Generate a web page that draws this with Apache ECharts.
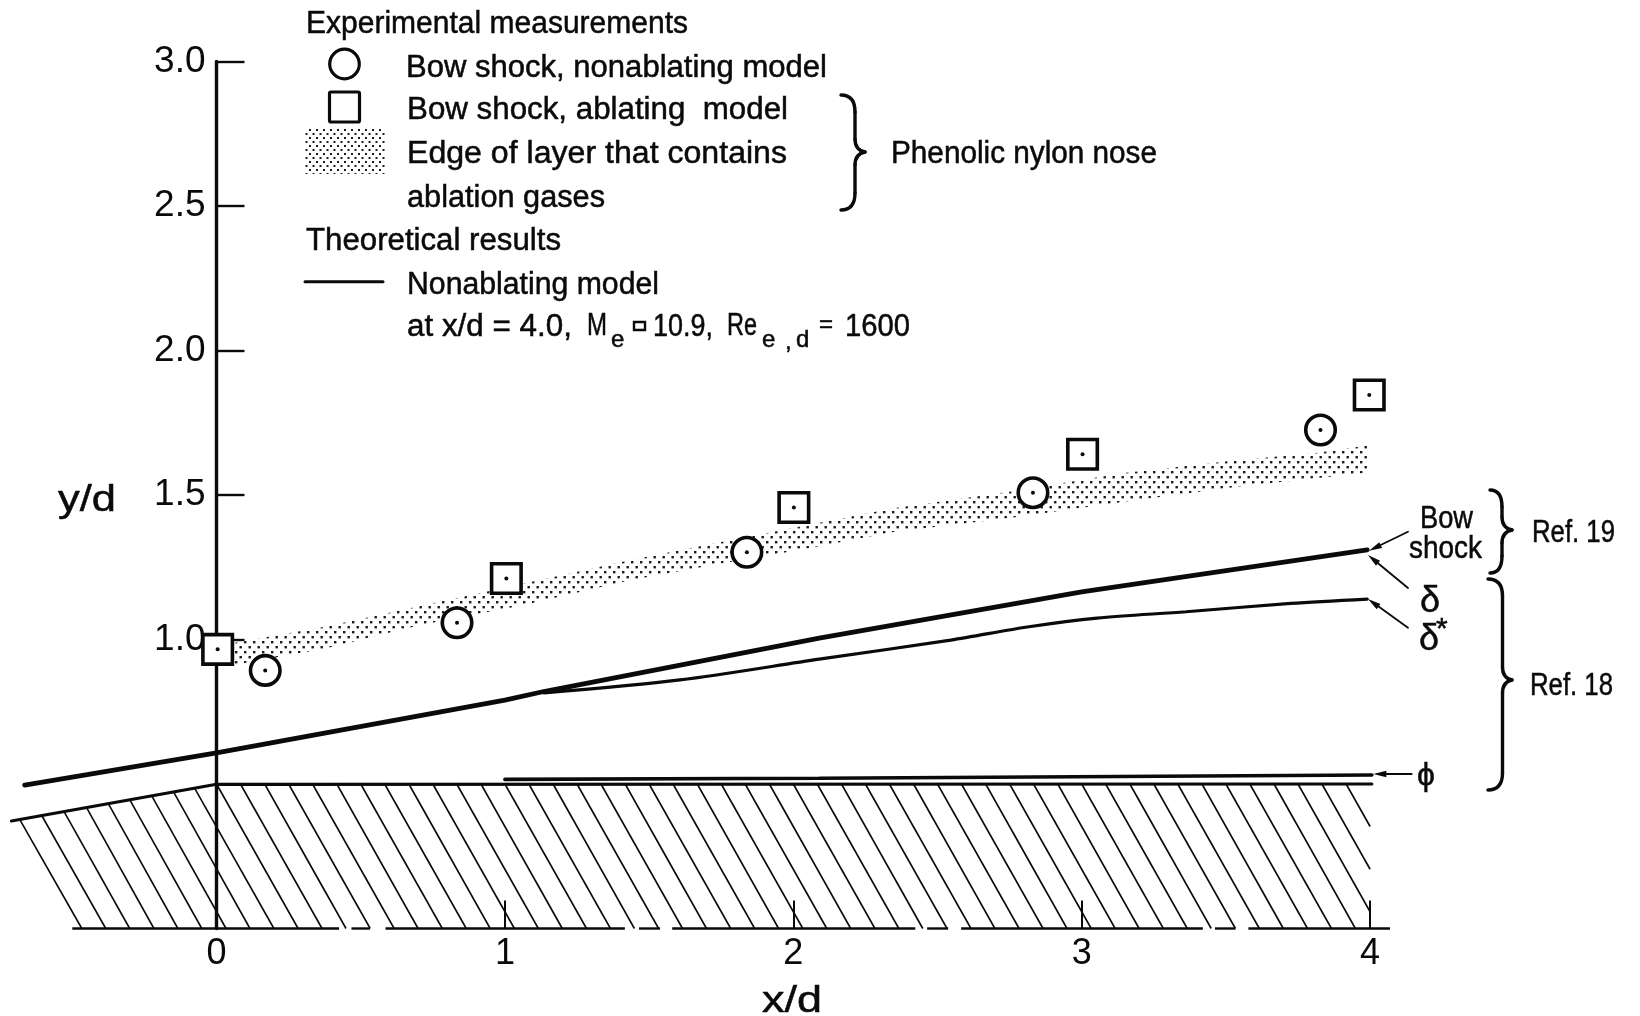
<!DOCTYPE html>
<html>
<head>
<meta charset="utf-8">
<style>html,body{margin:0;padding:0;background:#fff}#c{width:1640px;height:1016px}</style>
<script src="https://cdn.jsdelivr.net/npm/echarts@6/dist/echarts.min.js"></script>
</head>
<body>
<div id="c"></div>
<script>
// ---- data ----
const xTickLabels = [0, 1, 2, 3, 4];
const xTickMarks = [1, 2, 3, 4];
const yTickValues = [1, 1.5, 2, 2.5, 3];

const circleX = [0.169, 0.834, 1.839, 2.831, 3.828];
const circleY = [0.893, 1.058, 1.302, 1.508, 1.725];
const squareX = [0.004, 1.005, 2.002, 3.003, 3.997];
const squareY = [0.966, 1.211, 1.457, 1.641, 1.846];

const bandTopX = [0.06, 0.376, 0.707, 1.066, 1.437, 1.755, 2.02, 2.352, 2.75, 3.147, 3.545, 3.812, 3.99];
const bandTopY = [0.988, 1.044, 1.116, 1.194, 1.275, 1.338, 1.39, 1.455, 1.511, 1.576, 1.621, 1.645, 1.671];
const bandLowX = [0.06, 0.376, 0.707, 1.066, 1.437, 1.755, 2.02, 2.352, 2.75, 3.147, 3.545, 3.812, 3.99];
const bandLowY = [0.912, 0.969, 1.05, 1.119, 1.206, 1.264, 1.31, 1.373, 1.42, 1.477, 1.529, 1.558, 1.577];

const shockX = [-0.665, 0, 1, 1.135, 2.09, 3, 3.99];
const shockY = [0.4965, 0.608, 0.79, 0.82, 1.005, 1.165, 1.31];
const deltaStarX = [1.135, 1.607, 2.09, 2.546, 2.817, 3.053, 3.362, 3.725, 3.99];
const deltaStarY = [0.815, 0.86, 0.932, 0.998, 1.044, 1.074, 1.096, 1.125, 1.14];
const phiX = [1.0, 2.09, 4.006];
const phiY = [0.516, 0.52, 0.531];
const bodyX = [-0.711, 0, 4.006];
const bodyY = [0.372, 0.499, 0.5];

const baseSegments = [[-0.5, 0.425], [0.468, 0.532], [0.586, 1.416], [1.465, 1.538], [1.58, 2.423], [2.464, 2.537], [2.582, 3.42], [3.462, 3.533], [3.578, 4.069]];

const hatchTopX = [-0.682, -0.606, -0.529, -0.451, -0.375, -0.301, -0.225, -0.149, -0.076,
  0, 0.083, 0.167, 0.25, 0.333, 0.417, 0.5, 0.583, 0.667, 0.75, 0.833, 0.917,
  1, 1.083, 1.167, 1.25, 1.333, 1.417, 1.5, 1.583, 1.667, 1.75, 1.833, 1.917,
  2, 2.083, 2.167, 2.25, 2.333, 2.417, 2.5, 2.583, 2.667, 2.75, 2.833, 2.917,
  3, 3.083, 3.167, 3.25, 3.333, 3.417, 3.5, 3.583, 3.667, 3.75, 3.833, 3.917];
const hatchTopY = [0.377, 0.391, 0.405, 0.419, 0.432, 0.446, 0.46, 0.473, 0.486,
  0.5, 0.5, 0.5, 0.5, 0.5, 0.5, 0.5, 0.5, 0.5, 0.5, 0.5, 0.5,
  0.5, 0.5, 0.5, 0.5, 0.5, 0.5, 0.5, 0.5, 0.5, 0.5, 0.5, 0.5,
  0.5, 0.5, 0.5, 0.5, 0.5, 0.5, 0.5, 0.5, 0.5, 0.5, 0.5, 0.5,
  0.5, 0.5, 0.5, 0.5, 0.5, 0.5, 0.5, 0.5, 0.5, 0.5, 0.5, 0.5];
const hatchEndX = [-0.467, -0.384, -0.301, -0.217, -0.134, -0.051, 0.033, 0.116, 0.199,
  0.283, 0.366, 0.449, 0.533, 0.616, 0.699, 0.783, 0.866, 0.949, 1.033, 1.116, 1.199,
  1.283, 1.366, 1.449, 1.533, 1.616, 1.699, 1.783, 1.866, 1.949, 2.033, 2.116, 2.199,
  2.283, 2.366, 2.449, 2.533, 2.616, 2.699, 2.783, 2.866, 2.949, 3.033, 3.116, 3.199,
  3.283, 3.366, 3.449, 3.533, 3.616, 3.699, 3.783, 3.866, 3.949, 4, 4, 4];
const hatchEndY = [0, 0, 0, 0, 0, 0, 0, 0, 0,
  0, 0, 0, 0, 0, 0, 0, 0, 0, 0, 0, 0,
  0, 0, 0, 0, 0, 0, 0, 0, 0, 0, 0, 0,
  0, 0, 0, 0, 0, 0, 0, 0, 0, 0, 0, 0,
  0, 0, 0, 0, 0, 0, 0, 0, 0, 0.058, 0.205, 0.353];

// ---- helpers ----
const zip = (a, b) => a.map((v, i) => [v, b[i]]);
const FONT = '"Liberation Sans"';
const INK = '#0a0a0a';

function dotTile(w, h, d) {
  const c = document.createElement('canvas');
  c.width = w; c.height = h;
  const g = c.getContext('2d');
  g.fillStyle = '#1a1a1a';
  g.fillRect(1, 1, d, d);
  g.fillRect(1 + w / 2, 1 + h / 2, d, d);
  return c;
}
const bandDots = { image: dotTile(9, 10, 2.4), repeat: 'repeat' };
const keyDots = { image: dotTile(7, 8, 2), repeat: 'repeat' };

const mctx = document.createElement('canvas').getContext('2d');
function T(text, x, y, size, targetWidth) {
  mctx.font = size + 'px ' + FONT;
  const w = mctx.measureText(text).width;
  return {
    type: 'text', x, y, originX: 0, originY: 0,
    scaleX: targetWidth ? targetWidth / w : 1,
    style: { text, fontSize: size, fontFamily: FONT, fill: INK, stroke: INK, lineWidth: 0.5, align: 'left', verticalAlign: 'middle' },
    z: 20
  };
}
const L = (x1, y1, x2, y2, w) => ({
  type: 'line', shape: { x1, y1, x2, y2 }, style: { stroke: INK, lineWidth: w || 2, lineCap: 'round' }, z: 20
});
const Q = (x1, y1, cx, cy, x2, y2, w) => ({
  type: 'bezierCurve', shape: { x1, y1, cpx1: cx, cpy1: cy, x2, y2 },
  style: { stroke: INK, lineWidth: w || 3.4, fill: null, lineCap: 'round' }, z: 20
});
function brace(xL, xS, xTip, yT, yTip, yB) {
  return [
    Q(xL, yT, xS, yT, xS, yT + 17),
    L(xS, yT + 17, xS, yTip - 13, 3.4),
    Q(xS, yTip - 13, xS, yTip - 2, xTip, yTip),
    Q(xTip, yTip, xS, yTip + 2, xS, yTip + 13),
    L(xS, yTip + 13, xS, yB - 17, 3.4),
    Q(xS, yB - 17, xS, yB, xL, yB)
  ];
}
function arrow(x1, y1, x2, y2) {
  const a = Math.atan2(y2 - y1, x2 - x1), h = 13, b = 3.2;
  const bx = x2 - h * Math.cos(a), by = y2 - h * Math.sin(a);
  const nx = -Math.sin(a) * b, ny = Math.cos(a) * b;
  return [
    L(x1, y1, bx, by, 1.8),
    { type: 'polygon', shape: { points: [[x2, y2], [bx + nx, by + ny], [bx - nx, by - ny]] }, style: { fill: INK }, z: 20 }
  ];
}

const graphics = [
  T('Experimental measurements', 306, 24, 31, 382),
  T('Bow shock, nonablating model', 406, 68, 31, 421),
  T('Bow shock, ablating  model', 407, 110, 31, 381),
  T('Edge of layer that contains', 407, 154, 31, 380),
  T('ablation gases', 407, 198, 31, 198),
  T('Theoretical results', 306, 241, 31, 255),
  T('Nonablating model', 407, 285, 31, 252),
  T('at x/d = 4.0,', 407, 327, 31, 165),
  T('M', 587, 326, 31, 20),
  T('e', 611, 340, 24),
  { type: 'rect', shape: { x: 634, y: 322, width: 11, height: 8 }, style: { fill: null, stroke: INK, lineWidth: 2.4 }, z: 20 },
  T('10.9,', 653, 327, 31, 60),
  T('Re', 727, 326, 31, 30),
  T('e', 762, 340, 24),
  T(',', 785, 342, 24),
  T('d', 796, 340, 24),
  T('=', 819, 325, 24),
  T('1600', 845, 327, 31, 65),
  T('Phenolic nylon nose', 891, 154, 31, 266),
  T('Bow', 1420, 519, 31, 53),
  T('shock', 1409, 549, 31, 73),
  T('\u03b4', 1420, 602, 36),
  T('\u03b4', 1419, 640, 36),
  T('*', 1436, 630, 30),
  T('\u03d5', 1417, 776, 32),
  T('Ref. 19', 1532, 533, 31, 83),
  T('Ref. 18', 1530, 686, 31, 83),
  T('y/d', 58, 501, 37, 58),
  T('x/d', 762, 1002, 37, 60),
  // legend keys
  { type: 'circle', shape: { cx: 344.5, cy: 64, r: 14.8 }, style: { stroke: INK, lineWidth: 3.2, fill: '#fff' }, z: 20 },
  { type: 'rect', shape: { x: 329.5, y: 92, width: 30, height: 30, r: 1.5 }, style: { stroke: INK, lineWidth: 3.2, fill: '#fff' }, z: 20 },
  { type: 'rect', shape: { x: 304, y: 129, width: 81, height: 45 }, style: { fill: keyDots }, z: 20 },
  L(305, 281.7, 383, 281.7, 3)
]
  .concat(brace(841, 855, 865, 95, 152, 210))
  .concat(brace(1490, 1502, 1512, 490, 530, 573))
  .concat(brace(1488, 1502.5, 1512, 579, 680, 790))
  .concat(arrow(1408, 531.7, 1369, 550.7))
  .concat(arrow(1408, 588, 1368, 555))
  .concat(arrow(1408, 627.7, 1368, 599))
  .concat(arrow(1411.7, 774, 1373.3, 774));

const lineSeries = (name, xs, ys, w, extra) => Object.assign({
  name, type: 'line', data: zip(xs, ys), showSymbol: false, symbol: 'none',
  lineStyle: { color: INK, width: w, cap: 'round' }, silent: true, animation: false, z: 4
}, extra || {});

const option = {
  backgroundColor: '#fff',
  animation: false,
  grid: { left: -71.9, width: 1730.4, top: 61.5, height: 867, containLabel: false, outerBoundsMode: 'none' },
  xAxis: {
    type: 'value', min: -1, max: 5, interval: 1, splitLine: { show: false },
    axisLine: { show: false },
    axisTick: { show: true, inside: true, length: 28, customValues: xTickMarks, lineStyle: { color: INK, width: 2 } },
    axisLabel: { show: true, customValues: xTickLabels, margin: 8, color: INK, fontSize: 36, fontFamily: FONT,
      formatter: v => String(v) }
  },
  yAxis: {
    type: 'value', min: 0, max: 3, interval: 0.5, splitLine: { show: false }, offset: -288.4,
    axisLine: { show: true, onZero: false, lineStyle: { color: INK, width: 3.4 } },
    axisTick: { show: true, inside: true, length: 28, customValues: yTickValues, lineStyle: { color: INK, width: 2.4 } },
    axisLabel: { show: true, customValues: yTickValues, margin: 11, padding: [13, 0, 0, 0], color: INK, fontSize: 37, fontFamily: FONT,
      formatter: v => v.toFixed(1) }
  },
  graphic: { elements: graphics },
  series: [
    {
      name: 'Edge of layer that contains ablation gases', type: 'custom', silent: true, animation: false, z: 3,
      coordinateSystem: 'cartesian2d',
      data: [[0, 0]],
      renderItem: (p, api) => ({
        type: 'polygon',
        shape: { points: zip(bandTopX, bandTopY).concat(zip(bandLowX, bandLowY).reverse()).map(q => api.coord(q)) },
        style: { fill: bandDots }
      })
    },
    {
      name: 'Hatching', type: 'custom', silent: true, animation: false, z: 3,
      coordinateSystem: 'cartesian2d',
      data: hatchTopX.map((x, i) => [x, hatchTopY[i], hatchEndX[i], hatchEndY[i]]),
      encode: { x: [0, 2], y: [1, 3] },
      renderItem: (p, api) => {
        const a = api.coord([api.value(0), api.value(1)]);
        const b = api.coord([api.value(2), api.value(3)]);
        return { type: 'line', shape: { x1: a[0], y1: a[1], x2: b[0], y2: b[1] }, style: { stroke: INK, lineWidth: 1.6 } };
      }
    },
    {
      name: 'Base', type: 'custom', silent: true, animation: false, z: 3,
      coordinateSystem: 'cartesian2d',
      data: baseSegments,
      encode: { x: [0, 1] },
      renderItem: (p, api) => {
        const a = api.coord([api.value(0), 0]);
        const b = api.coord([api.value(1), 0]);
        return { type: 'line', shape: { x1: a[0], y1: a[1], x2: b[0], y2: b[1] }, style: { stroke: INK, lineWidth: 2.4 } };
      }
    },
    lineSeries('Body', bodyX, bodyY, 3.2),
    lineSeries('Phi', phiX, phiY, 3.6),
    lineSeries('Delta star', deltaStarX, deltaStarY, 3.2, { smooth: 0.3 }),
    lineSeries('Bow shock', shockX, shockY, 4.8),
    {
      name: 'Bow shock, nonablating model', type: 'scatter', data: zip(circleX, circleY), symbol: 'circle', symbolSize: 29.5,
      itemStyle: { color: '#fff', borderColor: INK, borderWidth: 3.6, opacity: 1 }, silent: true, animation: false, z: 5
    },
    {
      name: 'Bow shock, ablating model', type: 'scatter', data: zip(squareX, squareY), symbol: 'rect', symbolSize: 29.5,
      itemStyle: { color: '#fff', borderColor: INK, borderWidth: 3.6, opacity: 1 }, silent: true, animation: false, z: 5
    },
    {
      name: 'Circle centres', type: 'scatter', data: zip(circleX, circleY), symbol: 'circle', symbolSize: 4,
      itemStyle: { color: INK, opacity: 1 }, silent: true, animation: false, z: 6
    },
    {
      name: 'Square centres', type: 'scatter', data: zip(squareX, squareY), symbol: 'circle', symbolSize: 4,
      itemStyle: { color: INK, opacity: 1 }, silent: true, animation: false, z: 6
    }
  ]
};
const chart = echarts.init(document.getElementById('c'), null, { renderer: 'canvas', width: 1640, height: 1016 });
chart.setOption(option);
</script>
</body>
</html>
